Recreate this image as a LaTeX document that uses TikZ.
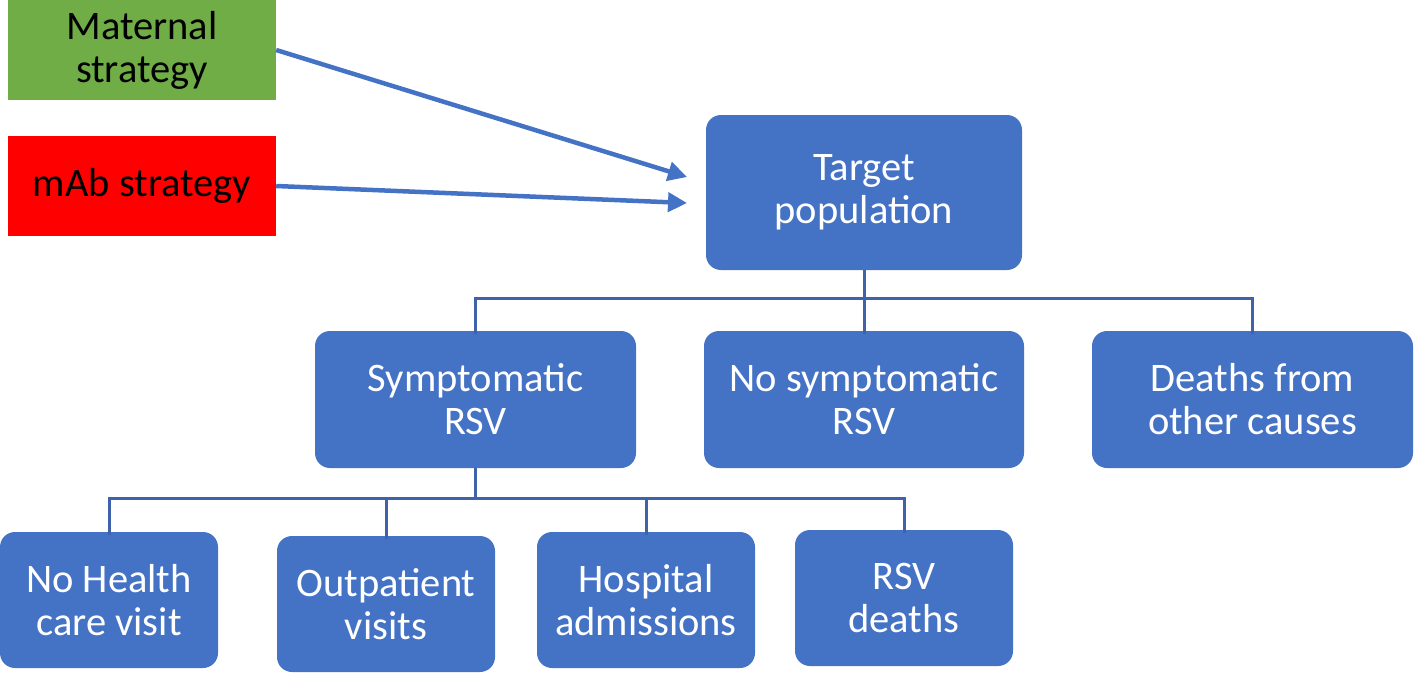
\documentclass[tikz,border=0pt]{standalone}
\usepackage{fontspec}
\setmainfont{Carlito}
\usetikzlibrary{arrows.meta}
\definecolor{boxblue}{HTML}{4472C4}
\definecolor{linkblue}{HTML}{3F62AA}
\definecolor{matgreen}{HTML}{70AD47}
\begin{document}
\begin{tikzpicture}[x=1pt,y=-1pt,
  box/.style={rounded corners=15pt,fill=boxblue,text=white,align=center,inner sep=0pt,font=\fontsize{40.5}{43}\selectfont},
  strat/.style={align=center,inner sep=0pt,text=black,minimum width=268pt,minimum height=100pt,font=\fontsize{40.5}{43}\selectfont},
  link/.style={linkblue,line width=3pt},
  push/.style={boxblue,line width=4.5pt,-{Triangle[length=19pt,width=19pt]}}]

\useasboundingbox (0,0) rectangle (1414,673);

\node [strat,fill=matgreen] (mat) at (142,50) {Maternal\\strategy};
\node [strat,fill=red] (mab) at (142,186) {mAb strategy};
\node [box,minimum width=316pt,minimum height=155pt] (target) at (864,192.5) {Target\\population};
\node [box,minimum width=321pt,minimum height=137pt] (sym) at (475.5,399.5) {Symptomatic\\RSV};
\node [box,minimum width=320pt,minimum height=137pt] (nosym) at (864,399.5) {No symptomatic\\RSV};
\node [box,minimum width=321pt,minimum height=137pt] (other) at (1252.5,399.5) {Deaths from\\other causes};
\node [box,minimum width=218pt,minimum height=136pt] (nohc) at (109,600) {No Health\\care visit};
\node [box,minimum width=218pt,minimum height=136pt] (outp) at (386,604) {Outpatient\\visits};
\node [box,minimum width=218pt,minimum height=136pt] (hosp) at (646,600) {Hospital\\admissions};
\node [box,minimum width=218pt,minimum height=136pt] (rsvd) at (904,598) {RSV\\deaths};

\coordinate (in1) at (687,177);
\coordinate (in2) at (687,203);
\draw [push] (mat.east) -- (in1);
\draw [push] (mab.east) -- (in2);

\coordinate (j1) at (864,298);
\coordinate (j2) at (475.5,498);
\draw [link] (target.south) -- (j1);
\draw [link] (j1) -| ([yshift=-3pt]sym.north);
\draw [link] (j1) -- ([yshift=-3pt]nosym.north);
\draw [link] (j1) -| ([yshift=-3pt]other.north);
\draw [link] (sym.south) -- (j2);
\draw [link] (j2) -| ([yshift=-3pt]nohc.north);
\draw [link] (j2) -| ([yshift=-3pt]outp.north);
\draw [link] (j2) -| ([yshift=-3pt]hosp.north);
\draw [link] (j2) -| ([yshift=-3pt]rsvd.north);
\end{tikzpicture}
\end{document}
